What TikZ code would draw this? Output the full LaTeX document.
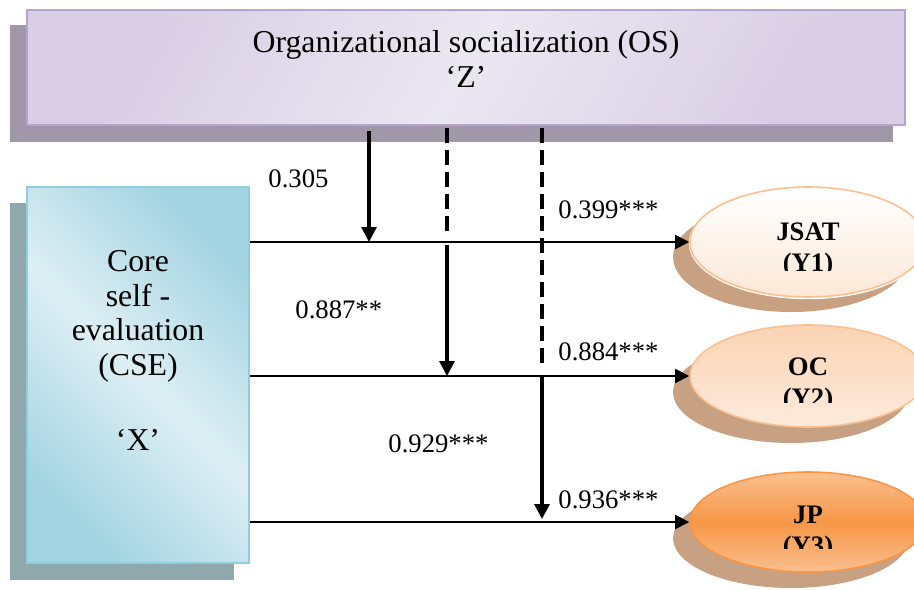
\documentclass[tikz,border=0pt]{standalone}
\usepackage{fontspec}
\setmainfont{Liberation Serif}
\usetikzlibrary{arrows.meta,shapes.geometric}

\definecolor{osline}{HTML}{B5A5CE}
\definecolor{oslight}{HTML}{EBE7F1}
\definecolor{osdark}{HTML}{D8CEE5}
\definecolor{osshadow}{HTML}{A098A8}
\definecolor{cseline}{HTML}{92CDDC}
\definecolor{cselight}{HTML}{DDEFF4}
\definecolor{csedark}{HTML}{A3D4E2}
\definecolor{cseshadow}{HTML}{8EA8AC}
\definecolor{ovline}{HTML}{FAC090}
\definecolor{ovshadow}{HTML}{C8A082}
\definecolor{peach}{HTML}{FCE2CD}
\definecolor{peachdark}{HTML}{FBD3B3}
\definecolor{jporange}{HTML}{F79646}
\definecolor{jplight}{HTML}{FAC08F}

\begin{document}
\begin{tikzpicture}[x=0.5pt,y=-0.5pt,
    every node/.style={inner sep=0pt},
    bigtext/.style={font=\fontsize{15.9}{17.3}\selectfont},
    coef/.style={font=\fontsize{13.35}{15}\selectfont},
    ytext/.style={font=\fontsize{13.35}{15}\selectfont\bfseries},
    oval/.style={ellipse,minimum width=118pt,line width=0.8pt},
    link/.style={line width=1pt,-{Triangle[length=7pt,width=7pt]}},
    drop/.style={line width=1.6pt,-{Triangle[length=7.5pt,width=7.5pt]}},
    dropdash/.style={line width=1.6pt,dash pattern=on 7.5pt off 3.5pt}]
  \useasboundingbox (0,0) rectangle (914,589);
  \clip (0,0) rectangle (914,589);

  % moderator box
  \fill[osshadow] (10,25) rectangle (893,142);
  \node[draw=osline,line width=1pt,minimum width=439pt,minimum height=57.5pt,
    shading=axis,top color=osdark,bottom color=osdark,middle color=oslight,shading angle=60]
    (os) at (466,67.5) {};
  \node[bigtext,align=center,anchor=north] (ostxt) at (466,30)
    {Organizational socialization (OS)\\[0.2pt]‘Z’};

  % predictor box
  \fill[cseshadow] (10,203) rectangle (234,580);
  \node[draw=cseline,line width=1pt,minimum width=111pt,minimum height=188pt,
    shading=axis,top color=csedark,bottom color=csedark,middle color=cselight,shading angle=-45]
    (cse) at (138,375) {};
  \node[bigtext,align=center,anchor=north] (csetxt) at (138,250)
    {Core\\self -\\evaluation\\(CSE)\\[20.4pt]‘X’};

  % outcomes
  \fill[ovshadow] (791,257) ellipse [x radius=59pt,y radius=27.5pt];
  \fill[ovshadow] (791,392) ellipse [x radius=59pt,y radius=25.5pt];
  \fill[ovshadow] (791,538) ellipse [x radius=59pt,y radius=25pt];
  \fill[white] (808,243) ellipse [x radius=59.6pt,y radius=28.1pt];
  \node[oval,draw=ovline,minimum height=55pt,top color=white,bottom color=peach!80]
    (jsat) at (808,242) {};
  \node[oval,draw=ovline,minimum height=51pt,top color=peachdark,bottom color=peach!70]
    (oc) at (808,376) {};
  \node[oval,draw=jporange,minimum height=50pt,top color=jplight,bottom color=jplight,
    middle color=jporange] (jp) at (808,522) {};

  \begin{scope}
    \clip (690,180) rectangle (914,270);
    \node[ytext,anchor=base] (jsatname) at (808,240) {JSAT};
    \node[ytext,anchor=base] (jsatcode) at (808,271) {(Y1)};
  \end{scope}
  \begin{scope}
    \clip (690,320) rectangle (914,402);
    \node[ytext,anchor=base] (ocname) at (808,375) {OC};
    \node[ytext,anchor=base] (occode) at (808,406) {(Y2)};
  \end{scope}
  \begin{scope}
    \clip (690,470) rectangle (914,548);
    \node[ytext,anchor=base] (jpname) at (808,523) {JP};
    \node[ytext,anchor=base] (jpcode) at (808,554) {(Y3)};
  \end{scope}

  % direct paths
  \draw[link] (cse.east |- jsat.west) -- (jsat.west);
  \draw[link] (cse.east |- oc.west) -- (oc.west);
  \draw[link] (cse.east |- jp.west) -- (jp.west);

  % moderating paths
  \coordinate (ka) at (369,0);
  \coordinate (kb) at (447,0);
  \coordinate (kc) at (542,0);
  \draw[drop] ([yshift=-2.5pt]ka |- os.south) -- (ka |- jsat.west);
  \draw[dropdash] ([yshift=-1pt]kb |- os.south) -- ([yshift=2.5pt]kb |- jsat.west);
  \draw[drop] ([yshift=-1.5pt]kb |- jsat.west) -- (kb |- oc.west);
  \draw[dropdash] ([yshift=-1pt]kc |- os.south) -- ([yshift=6.5pt]kc |- oc.west);
  \draw[drop] (kc |- oc.west) -- ([yshift=1.5pt]kc |- jp.west);

  % coefficients
  \node[coef,anchor=base west] (c305) at (268,187) {0.305};
  \node[coef,anchor=base west] (c399) at (558,218) {0.399***};
  \node[coef,anchor=base west] (c887) at (295,318) {0.887**};
  \node[coef,anchor=base west] (c884) at (558,360) {0.884***};
  \node[coef,anchor=base west] (c929) at (388,452) {0.929***};
  \node[coef,anchor=base west] (c936) at (558,508) {0.936***};
\end{tikzpicture}
\end{document}
